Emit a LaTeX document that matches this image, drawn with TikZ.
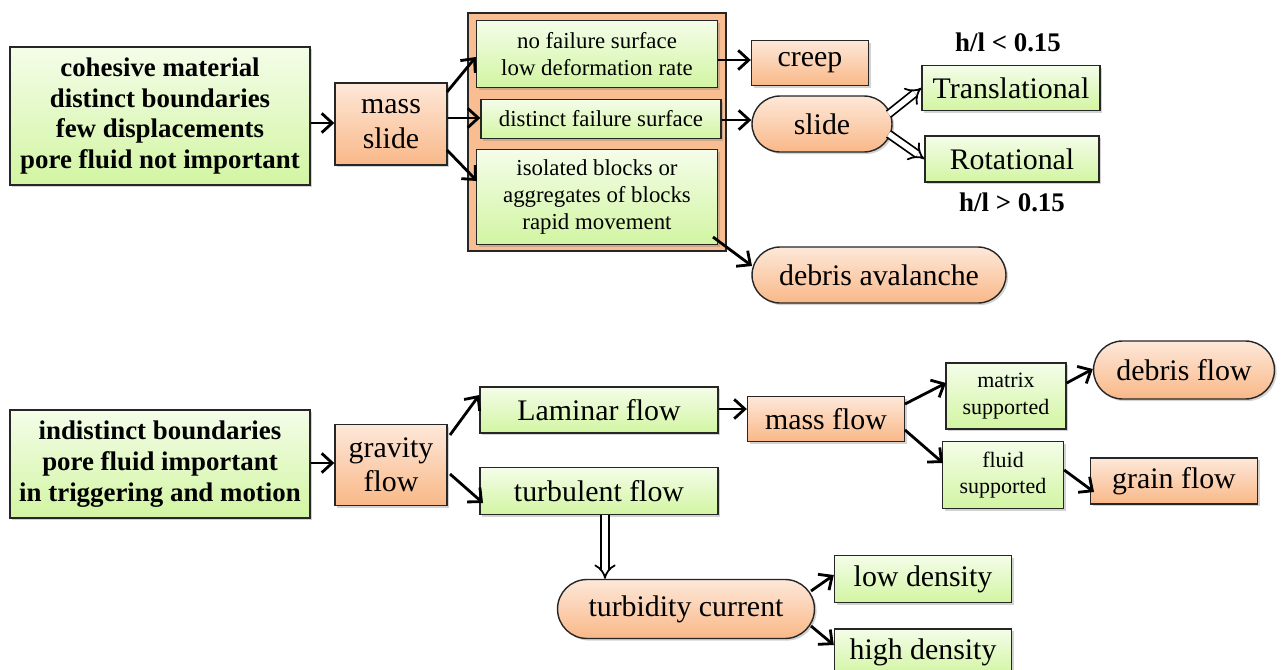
\documentclass[tikz,border=0pt]{standalone}
\usepackage{fontspec}
\setmainfont{Liberation Serif}
\usetikzlibrary{arrows.meta,shapes.misc,shadows}
\definecolor{grnT}{HTML}{F4FDE9}
\definecolor{grnB}{HTML}{D2F5A2}
\definecolor{orgT}{HTML}{FDE8D9}
\definecolor{orgB}{HTML}{F9B888}
\definecolor{cont}{HTML}{F8BE91}
\begin{document}
\begin{tikzpicture}[x=0.02cm,y=-0.02cm,
  box/.style={draw=black!85, line width=0.8pt, inner sep=0pt, align=center,
    drop shadow={shadow xshift=1.2pt, shadow yshift=-1.2pt, opacity=0.35}},
  gbox/.style={box, top color=grnT, bottom color=grnB},
  obox/.style={box, top color=orgT, bottom color=orgB},
  ostad/.style={obox, rounded rectangle},
  big/.style={font=\fontsize{17}{19.5}\selectfont},
  small/.style={font=\fontsize{13}{15.5}\selectfont},
  bbold/.style={font=\fontsize{15.3}{17.6}\selectfont\bfseries},
  arr/.style={-{Straight Barb[length=6pt,width=11pt,line width=1.6pt]}, line width=1.6pt},
  dbl/.style={double distance=3.2pt, line width=1pt, -{Implies[length=5pt]}}
]
\useasboundingbox (0,0) rectangle (1286,670);

% ---------- top part ----------
\node[gbox,bbold,minimum width=6cm,minimum height=2.76cm] (coh) at (160,116)
  {cohesive material\\distinct boundaries\\few displacements\\pore fluid not important};
\node[obox,big,minimum width=2.24cm,minimum height=1.64cm] (ms) at (391,124) {mass\\slide};
\node[draw=black!85, line width=0.8pt, fill=cont, minimum width=5.16cm, minimum height=4.76cm, inner sep=0pt] (cont) at (597,132) {};
\node[gbox,small,minimum width=4.82cm,minimum height=1.34cm] (nof) at (597,54)
  {no failure surface\\low deformation rate};
\node[gbox,small,minimum width=4.8cm,minimum height=0.78cm] (dis) at (601,119)
  {distinct failure surface};
\node[gbox,small,minimum width=4.82cm,minimum height=1.9cm] (iso) at (597,197)
  {isolated blocks or\\aggregates of blocks\\rapid movement};
\node[obox,big,minimum width=2.34cm,minimum height=0.9cm] (creep) at (810,63) {creep};
\node[ostad,big,minimum width=2.8cm,minimum height=1.12cm] (slide) at (822,124) {slide};
\node[gbox,big,minimum width=3.56cm,minimum height=0.9cm] (trans) at (1011,88) {Translational};
\node[gbox,big,minimum width=3.48cm,minimum height=0.92cm] (rot) at (1012,159) {Rotational};
\node[bbold] (hlt) at (1008,42) {h/l < 0.15};
\node[bbold] (hgt) at (1012,202) {h/l > 0.15};
\node[ostad,big,minimum width=5.08cm,minimum height=1.12cm] (da) at (879,275) {debris avalanche};

\draw[arr] (coh.east |- 0,123) -- (ms.west |- 0,123);
\draw[arr] (447,92) -- (nof.west |- 0,57);
\draw[arr] (ms.east |- 0,118) -- (dis.west |- 0,118);
\draw[arr] (447,150) -- (477,181);
\draw[arr] (nof.east |- 0,60) -- (creep.west |- 0,60);
\draw[arr] (dis.east |- 0,120) -- (slide.west |- 0,120);
\draw[arr] (713,237) -- (752,266);
\draw[dbl] (slide.east) ++(-4,-10) -- (trans.west);
\draw[dbl] (slide.east) ++(-4,10) -- (rot.west);

% ---------- bottom part ----------
\node[gbox,bbold,minimum width=6cm,minimum height=2.16cm] (ind) at (160,464)
  {indistinct boundaries\\pore fluid important\\in triggering and motion};
\node[obox,big,minimum width=2.24cm,minimum height=1.62cm] (gf) at (391,465) {gravity\\flow};
\node[gbox,big,minimum width=4.76cm,minimum height=0.92cm] (lam) at (599,410) {Laminar flow};
\node[gbox,big,minimum width=4.76cm,minimum height=0.94cm] (turb) at (599,491) {turbulent flow};
\node[obox,big,minimum width=3.14cm,minimum height=0.9cm] (mf) at (826,419) {mass flow};
\node[gbox,font=\fontsize{12.5}{15.2}\selectfont,minimum width=2.4cm,minimum height=1.32cm] (mat) at (1006,396) {matrix\\supported};
\node[gbox,font=\fontsize{12.5}{15.2}\selectfont,minimum width=2.42cm,minimum height=1.34cm] (flu) at (1003,475) {fluid\\supported};
\node[ostad,big,minimum width=3.62cm,minimum height=1.16cm] (df) at (1184,370) {debris flow};
\node[obox,big,minimum width=3.34cm,minimum height=0.92cm] (gr) at (1174,481) {grain flow};
\node[ostad,big,minimum width=5.14cm,minimum height=1.18cm] (tc) at (686,609) {turbidity current};
\node[gbox,big,minimum width=3.54cm,minimum height=0.94cm] (low) at (923,579) {low density};
\node[gbox,big,minimum width=3.54cm,minimum height=0.92cm] (high) at (923,652) {high density};

\draw[arr] (ind.east |- 0,463) -- (gf.west |- 0,463);
\draw[arr] (450,435) -- (lam.west |- 0,395);
\draw[arr] (450,474) -- (483,503);
\draw[arr] (lam.east |- 0,409) -- (mf.west |- 0,409);
\draw[arr] (905,404) -- (946,383);
\draw[arr] (905,430) -- (943,463);
\draw[arr] (mat.east |- 0,383) -- (df.west |- 0,369);
\draw[arr] (flu.east |- 0,470) -- (1094,492);
\draw[dbl] (turb.south -| 605,0) -- (tc.north -| 605,0);
\draw[arr] (811,591) -- (low.west |- 0,575);
\draw[arr] (811,626) -- (high.west |- 0,645);
\end{tikzpicture}
\end{document}
